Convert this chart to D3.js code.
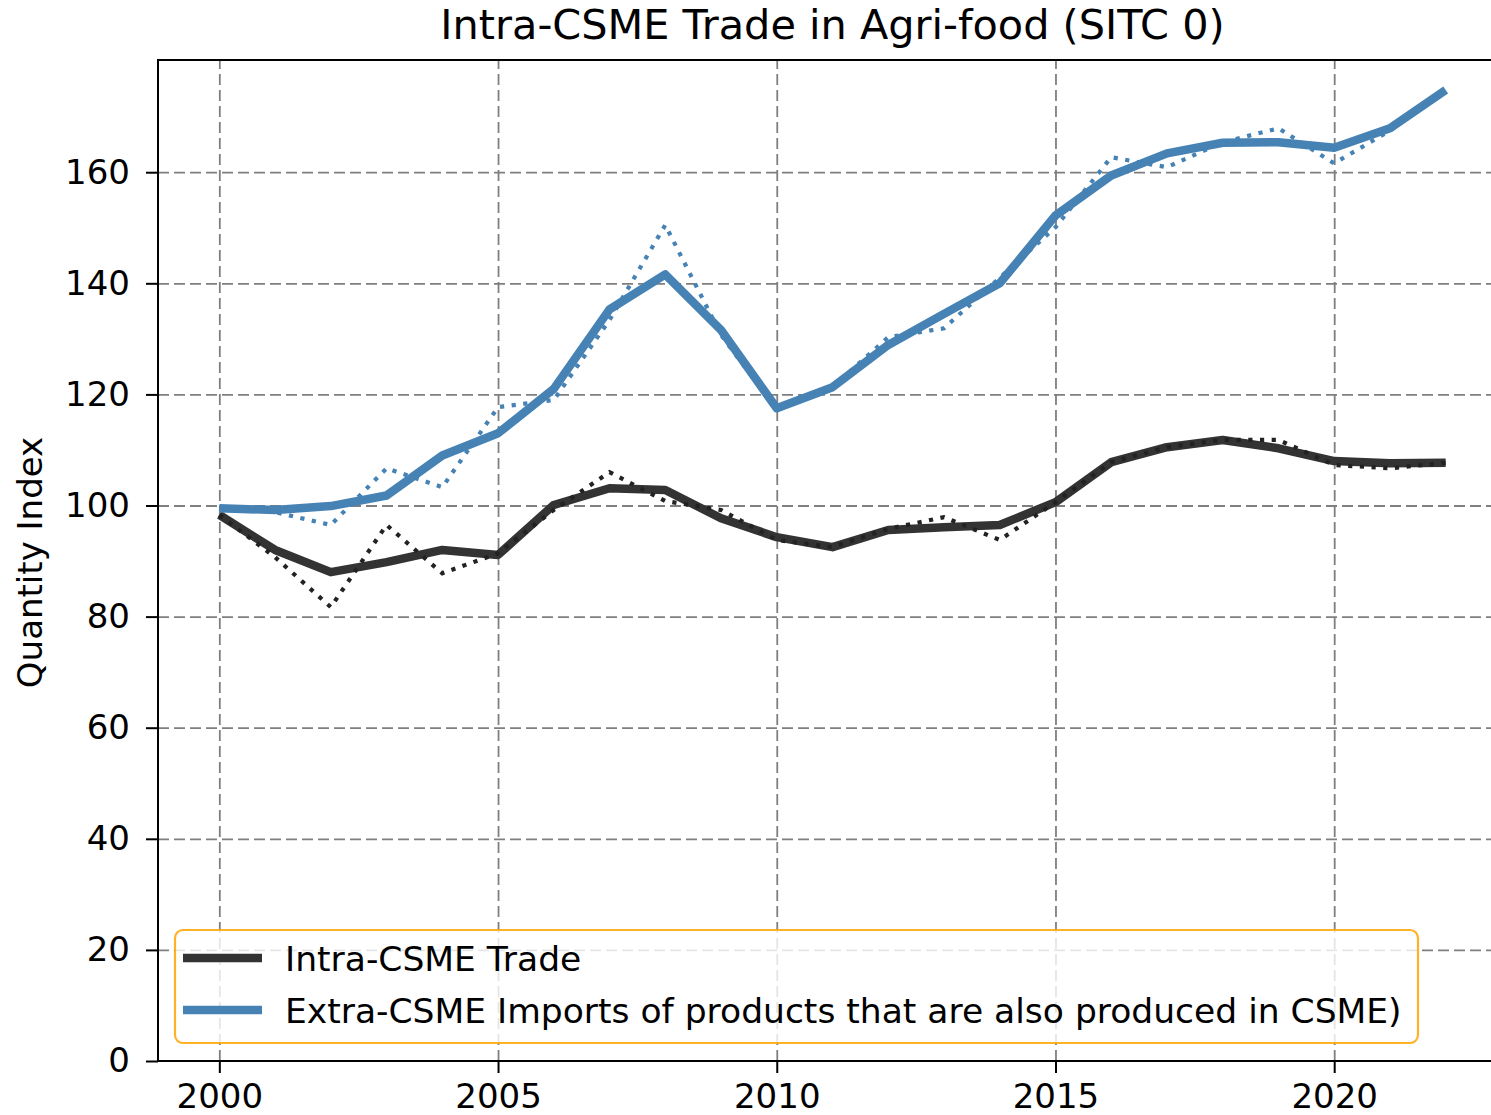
<!DOCTYPE html>
<html>
<head>
<meta charset="utf-8">
<script src="https://cdn.jsdelivr.net/npm/d3@7"></script>
<style>
  body { margin: 0; background: #fff; }
  svg { display: block; font-family: "DejaVu Sans", sans-serif; }
</style>
</head>
<body>
<div id="chart"></div>
<script>
/* DATA */
const years = [2000, 2001, 2002, 2003, 2004, 2005, 2006, 2007, 2008, 2009, 2010, 2011,
  2012, 2013, 2014, 2015, 2016, 2017, 2018, 2019, 2020, 2021, 2022];

// smoothed (solid) and yearly (dotted) values
const intraSmooth = [98.3, 92.0, 88.0, 89.8, 92.0, 91.1, 100.1, 103.1, 102.8, 97.7, 94.3, 92.5,
  95.6, 96.1, 96.5, 100.6, 107.8, 110.5, 111.8, 110.3, 108.0, 107.6, 107.7];
const intraRaw = [98.3, 90.7, 81.7, 96.5, 87.8, 91.4, 99.2, 106.0, 100.8, 99.2, 93.8, 92.5,
  95.8, 97.9, 93.8, 100.6, 107.8, 110.5, 111.8, 111.8, 107.3, 106.7, 107.7];
const extraSmooth = [99.5, 99.2, 99.9, 101.8, 109.0, 113.0, 121.0, 135.3, 141.6, 131.6, 117.5, 121.3,
  128.9, 134.5, 140.0, 152.2, 159.4, 163.4, 165.3, 165.4, 164.4, 167.9, 174.8];
const extraRaw = [99.7, 98.8, 96.5, 106.7, 103.3, 117.7, 119.0, 133.4, 150.5, 130.7, 117.2, 121.3,
  130.3, 131.9, 141.0, 150.1, 162.7, 160.9, 165.4, 167.9, 161.6, 167.5, 174.8];

const xTicks = [2000, 2005, 2010, 2015, 2020];
const yTicks = [0, 20, 40, 60, 80, 100, 120, 140, 160];
const seriesNames = ["Intra-CSME Trade", "Extra-CSME Imports of products that are also produced in CSME)"];
const seriesColors = ["#333333", "steelblue"];

/* CONSTANTS */
const width = 1491, height = 1115;
const plot = { left: 158, top: 60, right: 1507, bottom: 1061 };
const tickFont = 34;

const svg = d3.select("#chart").append("svg")
  .attr("width", width)
  .attr("height", height);

// SCALES
const xScale = d3.scaleLinear().domain([1998.9, 2023.1]).range([plot.left, plot.right]);
const yScale = d3.scaleLinear().domain([0, 180.2]).range([plot.bottom, plot.top]);

// GRID
svg.append("g")
  .attr("class", "grid")
  .attr("transform", `translate(0, ${plot.bottom})`)
  .call(d3.axisBottom(xScale).tickValues(xTicks).tickSize(-(plot.bottom - plot.top)).tickFormat(""))
  .call(g => g.select(".domain").remove());
svg.append("g")
  .attr("class", "grid")
  .attr("transform", `translate(${plot.left}, 0)`)
  .call(d3.axisLeft(yScale).tickValues(yTicks.slice(1)).tickSize(-(plot.right - plot.left)).tickFormat(""))
  .call(g => g.select(".domain").remove());
svg.selectAll(".grid line")
  .attr("stroke", "#7f7f7f")
  .attr("stroke-width", 1.8)
  .attr("stroke-dasharray", "11 5");

// LINES
const line = vals => d3.line()
  .x((d, i) => xScale(years[i]))
  .y(d => yScale(d))(vals);

svg.append("path").attr("d", line(intraSmooth))
  .attr("fill", "none").attr("stroke", seriesColors[0]).attr("stroke-width", 8.5)
  .attr("stroke-linejoin", "round").attr("stroke-linecap", "butt");
svg.append("path").attr("d", line(intraRaw))
  .attr("fill", "none").attr("stroke", "#222").attr("stroke-width", 4.2)
  .attr("stroke-dasharray", "4.2 7.5");

svg.append("path").attr("d", line(extraSmooth))
  .attr("fill", "none").attr("stroke", seriesColors[1]).attr("stroke-width", 8.5)
  .attr("stroke-linejoin", "round").attr("stroke-linecap", "butt");
svg.append("path").attr("d", line(extraRaw))
  .attr("fill", "none").attr("stroke", seriesColors[1]).attr("stroke-width", 4.2)
  .attr("stroke-dasharray", "4.2 7.5");

// AXES
const xAxis = svg.append("g")
  .attr("transform", `translate(0, ${plot.bottom})`)
  .call(d3.axisBottom(xScale).tickValues(xTicks).tickSize(12).tickPadding(11).tickFormat(d3.format("d")));
const yAxis = svg.append("g")
  .attr("transform", `translate(${plot.left}, 0)`)
  .call(d3.axisLeft(yScale).tickValues(yTicks).tickSize(12).tickPadding(16));
[xAxis, yAxis].forEach(g => {
  g.selectAll("text").attr("font-size", tickFont).attr("font-family", "DejaVu Sans").attr("fill", "#000");
  g.selectAll("line").attr("stroke", "#000").attr("stroke-width", 2);
  g.select(".domain").remove();
});
// spines (right one is off-canvas)
svg.append("path")
  .attr("d", `M${plot.left},${plot.top}V${plot.bottom}H${plot.right}V${plot.top}Z`)
  .attr("fill", "none").attr("stroke", "#000").attr("stroke-width", 2);

// TITLE + Y LABEL
svg.append("text")
  .attr("x", (plot.left + plot.right) / 2).attr("y", 39)
  .attr("text-anchor", "middle").attr("font-size", 41.4)
  .text("Intra-CSME Trade in Agri-food (SITC 0)");
svg.append("text")
  .attr("transform", `translate(42, ${(plot.top + plot.bottom) / 2 + 2}) rotate(-90)`)
  .attr("text-anchor", "middle").attr("font-size", 34)
  .text("Quantity Index");

// LEGEND
const legend = svg.append("g");
legend.append("rect")
  .attr("x", 175).attr("y", 930).attr("width", 1243).attr("height", 113)
  .attr("rx", 8).attr("ry", 8)
  .attr("fill", "#fff").attr("fill-opacity", 0.8)
  .attr("stroke", "#ffa500").attr("stroke-opacity", 0.85).attr("stroke-width", 2.2);
const items = legend.selectAll("g.item")
  .data(seriesNames)
  .join("g")
  .attr("class", "item")
  .attr("transform", (d, i) => `translate(0, ${958 + i * 52})`);
items.append("line")
  .attr("x1", 183).attr("x2", 262)
  .attr("stroke", (d, i) => seriesColors[i]).attr("stroke-width", 8.5);
items.append("text")
  .attr("x", 285).attr("y", 13)
  .attr("font-size", 34.5).attr("fill", "#000")
  .text(d => d);
</script>
</body>
</html>
